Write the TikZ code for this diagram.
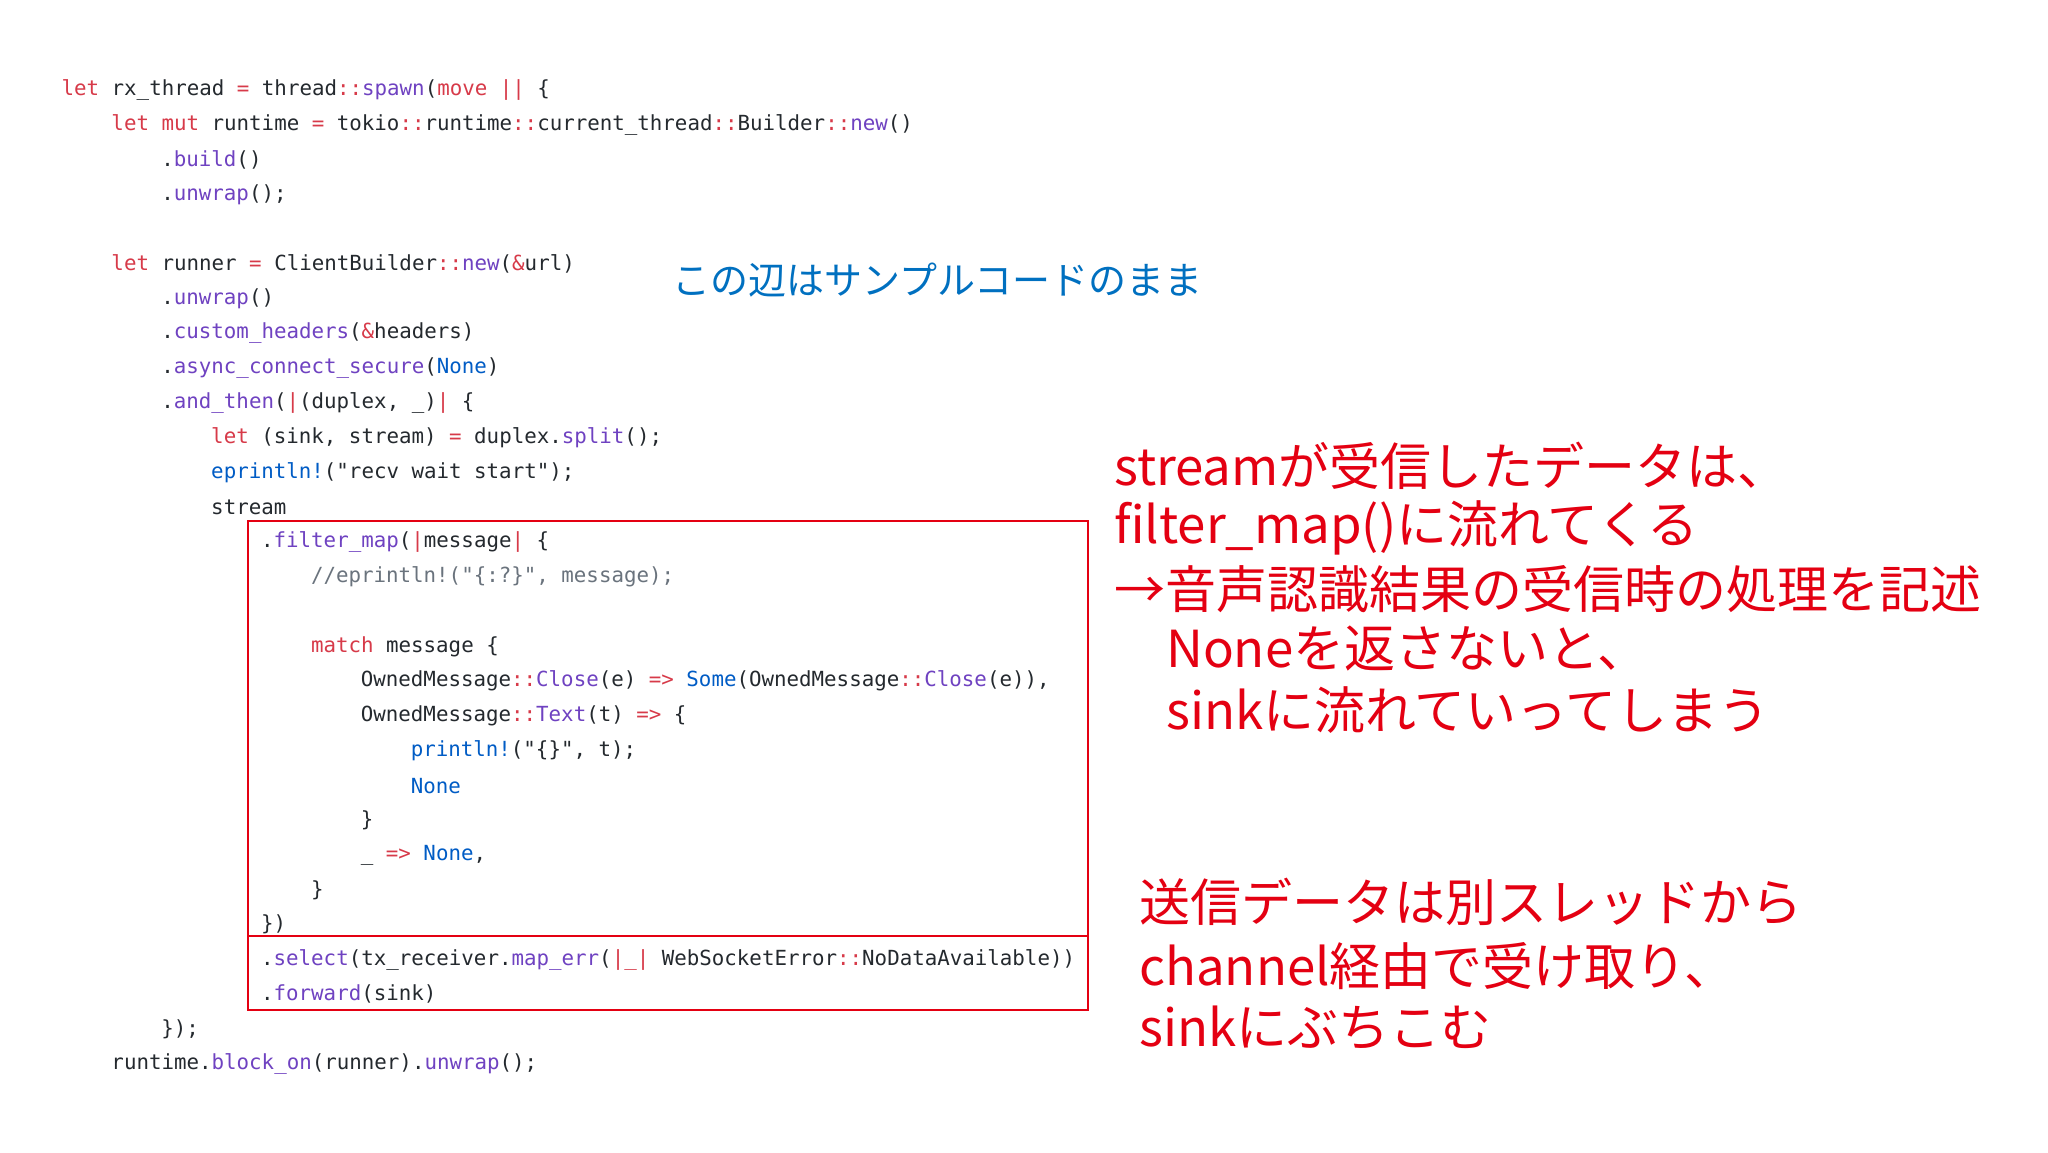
\documentclass[tikz,border=0pt]{standalone}
\usepackage{fontspec}
\newfontfamily\codef{DejaVu Sans Mono}
\newfontfamily\jp{Noto Sans CJK JP}
\definecolor{ckw}{RGB}{215,58,73}
\definecolor{cfn}{RGB}{111,66,193}
\definecolor{cbl}{RGB}{0,92,197}
\definecolor{ccm}{RGB}{106,115,125}
\definecolor{ctx}{RGB}{36,41,46}
\definecolor{anred}{RGB}{228,0,18}
\definecolor{anblue}{RGB}{0,112,192}
\newcommand\kw[1]{\textcolor{ckw}{#1}}
\newcommand\op[1]{\textcolor{ckw}{#1}}
\newcommand\fnc[1]{\textcolor{cfn}{#1}}
\newcommand\bl[1]{\textcolor{cbl}{#1}}
\newcommand\cm[1]{\textcolor{ccm}{#1}}
\newcommand\cl[4]{\node[codeln] (#1) at ({61.4+12.47*#2},{90+34.78*#3}) {#4};}
\begin{document}
\begin{tikzpicture}[x=1pt,y=-1pt,
  codeln/.style={anchor=west,inner sep=0pt,text=ctx,font=\codef\fontsize{20.8}{24}\selectfont},
  redtxt/.style={anchor=west,inner sep=0pt,text=anred,font=\jp\fontsize{51}{60}\selectfont},
  bluetxt/.style={anchor=west,inner sep=0pt,text=anblue,font=\jp\fontsize{38}{46}\selectfont},
  hbox/.style={draw=anred,line width=2pt}]
\useasboundingbox (0,0) rectangle (2048,1152);
\fill[white] (0,0) rectangle (2048,1152);
\cl{l0}{0}{0}{\kw{let} rx\_thread \op{=} thread\op{::}\fnc{spawn}(\kw{move} \op{||} \{}
\cl{l1}{4}{1}{\kw{let} \kw{mut} runtime \op{=} tokio\op{::}runtime\op{::}current\_thread\op{::}Builder\op{::}\fnc{new}()}
\cl{l2}{8}{2}{.\fnc{build}()}
\cl{l3}{8}{3}{.\fnc{unwrap}();}
\cl{l5}{4}{5}{\kw{let} runner \op{=} ClientBuilder\op{::}\fnc{new}(\op{\&}url)}
\cl{l6}{8}{6}{.\fnc{unwrap}()}
\cl{l7}{8}{7}{.\fnc{custom\_headers}(\op{\&}headers)}
\cl{l8}{8}{8}{.\fnc{async\_connect\_secure}(\bl{None})}
\cl{l9}{8}{9}{.\fnc{and\_then}(\op{|}(duplex, \_)\op{|} \{}
\cl{l10}{12}{10}{\kw{let} (sink, stream) \op{=} duplex.\fnc{split}();}
\cl{l11}{12}{11}{\bl{eprintln!}("recv wait start");}
\cl{l12}{12}{12}{stream}
\cl{l13}{16}{13}{.\fnc{filter\_map}(\op{|}message\op{|} \{}
\cl{l14}{20}{14}{\cm{//eprintln!("\{:?\}", message);}}
\cl{l16}{20}{16}{\kw{match} message \{}
\cl{l17}{24}{17}{OwnedMessage\op{::}\fnc{Close}(e) \op{=>} \bl{Some}(OwnedMessage\op{::}\fnc{Close}(e)),}
\cl{l18}{24}{18}{OwnedMessage\op{::}\fnc{Text}(t) \op{=>} \{}
\cl{l19}{28}{19}{\bl{println!}("\{\}", t);}
\cl{l20}{28}{20}{\bl{None}}
\cl{l21}{24}{21}{\}}
\cl{l22}{24}{22}{\_ \op{=>} \bl{None},}
\cl{l23}{20}{23}{\}}
\cl{l24}{16}{24}{\})}
\cl{l25}{16}{25}{.\fnc{select}(tx\_receiver.\fnc{map\_err}(\op{|\_|} WebSocketError\op{::}NoDataAvailable))}
\cl{l26}{16}{26}{.\fnc{forward}(sink)}
\cl{l27}{8}{27}{\});}
\cl{l28}{4}{28}{runtime.\fnc{block\_on}(runner).\fnc{unwrap}();}
\draw[hbox] (248,521) rectangle (1088,936);
\draw[hbox] (248,936) rectangle (1088,1010);
\node[bluetxt] (b1) at (672,280) {この辺はサンプルコードのまま};
\node[redtxt] (r1) at (1114,466) {streamが受信したデータは、};
\node[redtxt] (r2) at (1114,528) {filter\_map()に流れてくる};
\node[redtxt] (r3) at (1114,589) {→音声認識結果の受信時の処理を記述};
\node[redtxt] (r4) at (1166,649) {Noneを返さないと、};
\node[redtxt] (r5) at (1166,710) {sinkに流れていってしまう};
\node[redtxt] (s1) at (1139,902) {送信データは別スレッドから};
\node[redtxt] (s2) at (1139,966) {channel経由で受け取り、};
\node[redtxt] (s3) at (1139,1028) {sinkにぶちこむ};
\end{tikzpicture}
\end{document}
